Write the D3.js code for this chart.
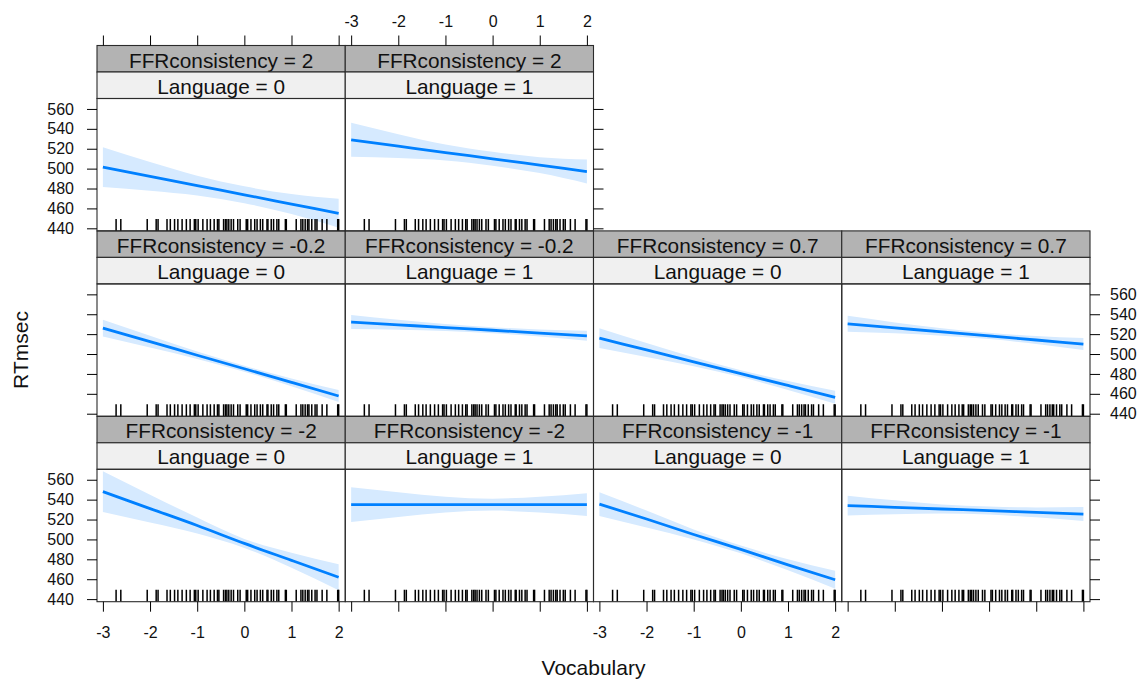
<!DOCTYPE html>
<html>
<head>
<meta charset="utf-8">
<script src="https://cdn.jsdelivr.net/npm/d3@7"></script>
<style>
  body { margin: 0; background: #fff; }
  svg text { font-family: "Liberation Sans", Arial, sans-serif; }
</style>
</head>
<body>
<svg id="chart" width="1142" height="679"></svg>
<script>
// Effect of Vocabulary on RTmsec, by FFRconsistency x Language
const vocabGrid = [-3, -2, -1, 0, 1, 2];

// panels are listed bottom-left first, filling each row left to right
const panelFFR = ["-2", "-2", "-1", "-1", "-0.2", "-0.2", "0.7", "0.7", "2", "2"];
const panelLanguage = ["0", "1", "0", "1", "0", "1", "0", "1", "0", "1"];

// fitted RT at each vocabGrid point
const fitRT = [
  [548, 531, 514, 496, 479, 462],
  [535, 535, 535, 535, 535, 535],
  [535.5, 520.5, 505, 490, 474.5, 459.5],
  [534, 532.3, 530.6, 529, 527.2, 525.5],
  [526, 512.5, 498.8, 485.2, 471.5, 457.8],
  [532.2, 529.4, 526.6, 523.9, 521.1, 518.3],
  [516, 504.1, 492.2, 480.3, 468.4, 456.5],
  [530.4, 526.3, 522.2, 518.2, 514.1, 510],
  [501.5, 492.2, 482.9, 473.7, 464.4, 455.1],
  [529, 522.6, 516.2, 509.9, 503.5, 497.1]
];

// lower confidence limit at each vocabGrid point
const lowerRT = [
  [527.5, 517, 506, 491.5, 471.5, 449],
  [517.5, 522.5, 527, 529, 527, 523.5],
  [523.5, 512, 500, 486, 469, 450.5],
  [524, 525.3, 526.1, 525, 522.2, 518.5],
  [517.5, 506.5, 495, 482.2, 467.5, 451.8],
  [525.2, 524.4, 523.1, 520.9, 517.6, 513.3],
  [506, 497.1, 487.7, 476.8, 463.9, 450],
  [522.4, 520.8, 518.4, 515, 510.1, 504],
  [481.5, 477.7, 472.9, 465.2, 454.4, 440.6],
  [512, 510.6, 508.2, 502.9, 495.5, 485.1]
];

// upper confidence limit at each vocabGrid point
const upperRT = [
  [568.5, 545, 522, 500.5, 486.5, 475],
  [552.5, 547.5, 543, 541, 543, 546.5],
  [547.5, 529, 510, 494, 480, 468.5],
  [544, 539.3, 535.1, 533, 532.2, 532.5],
  [534.5, 518.5, 502.6, 488.2, 475.5, 463.8],
  [539.2, 534.4, 530.1, 526.9, 524.6, 523.3],
  [526, 511.1, 496.7, 483.8, 472.9, 463],
  [538.4, 531.8, 526, 521.4, 518.1, 516],
  [521.5, 506.7, 492.9, 482.2, 474.4, 469.6],
  [546, 534.6, 524.2, 516.9, 511.5, 509.1]
];

// observed Vocabulary values shown as a rug
const rugVocabulary = [
  -2.72, -2.62, -2.06, -1.87, -1.83, -1.64, -1.57, -1.48, -1.41, -1.32,
  -1.23, -1.15, -1.06, -1.03, -0.98, -0.88, -0.79, -0.72, -0.64, -0.57,
  -0.54, -0.44, -0.40, -0.37, -0.33, -0.28, -0.23, -0.14, -0.09, 0.04,
  0.07, 0.14, 0.22, 0.27, 0.34, 0.39, 0.48, 0.50, 0.57, 0.62,
  0.69, 0.73, 0.87, 0.89, 1.10, 1.20, 1.24, 1.29, 1.34, 1.37,
  1.43, 1.50, 1.54, 1.65, 1.75, 1.98, 2.00
];

const xTickValues = [-3, -2, -1, 0, 1, 2];
const yTickValues = [440, 460, 480, 500, 520, 540, 560];

// ---- layout ----
const nCols = 4, nRows = 3;
const gridLeft = 97, gridRight = 1090, gridTop = 45.5, rowH = 185.4, stripH = 26.5;
const colW = (gridRight - gridLeft) / nCols;
const panelH = rowH - 2 * stripH;

const x = d3.scaleLinear().domain([-3.125, 2.14]).range([0, colW]);
const y = d3.scaleLinear().domain([437.4, 570.5]).range([panelH, 0]);

const svg = d3.select("#chart");
const fontFamily = '"Liberation Sans", Arial, sans-serif';

const panelCol = i => i % nCols;
const panelRow = i => nRows - 1 - Math.floor(i / nCols);
const panelLeft = c => gridLeft + c * colW;
const panelTop = r => gridTop + r * rowH + 2 * stripH;

const area = d3.area()
  .x(d => x(d.v)).y0(d => y(d.lo)).y1(d => y(d.hi))
  .curve(d3.curveMonotoneX);
const line = d3.line()
  .x(d => x(d.v)).y(d => y(d.fit))
  .curve(d3.curveMonotoneX);

panelFFR.forEach((ffr, i) => {
  const c = panelCol(i), r = panelRow(i);
  const g = svg.append("g").attr("transform", `translate(${panelLeft(c)},${gridTop + r * rowH})`);

  // strips
  g.append("rect").attr("width", colW).attr("height", stripH)
    .attr("fill", "#b3b3b3").attr("stroke", "#2b2b2b").attr("stroke-width", 1.1);
  g.append("text").attr("x", colW / 2).attr("y", 22)
    .attr("text-anchor", "middle").attr("font-size", 20.8).attr("fill", "#111")
    .text(`FFRconsistency = ${ffr}`);
  g.append("rect").attr("y", stripH).attr("width", colW).attr("height", stripH)
    .attr("fill", "#f0f0f0").attr("stroke", "#2b2b2b").attr("stroke-width", 1.1);
  g.append("text").attr("x", colW / 2).attr("y", stripH + 21.5)
    .attr("text-anchor", "middle").attr("font-size", 20.8).attr("fill", "#111")
    .text(`Language = ${panelLanguage[i]}`);

  // panel body
  const p = g.append("g").attr("transform", `translate(0,${2 * stripH})`);
  const clipId = `clip-${i}`;
  p.append("clipPath").attr("id", clipId)
    .append("rect").attr("width", colW).attr("height", panelH);
  const body = p.append("g").attr("clip-path", `url(#${clipId})`);

  const pts = vocabGrid.map((v, k) => ({ v, fit: fitRT[i][k], lo: lowerRT[i][k], hi: upperRT[i][k] }));
  body.append("path").attr("d", area(pts)).attr("fill", "#d6eaff");
  body.append("path").attr("d", line(pts)).attr("fill", "none")
    .attr("stroke", "#0080ff").attr("stroke-width", 2.8);

  body.selectAll("line.rug").data(rugVocabulary).join("line")
    .attr("class", "rug")
    .attr("x1", d => x(d)).attr("x2", d => x(d))
    .attr("y1", panelH).attr("y2", panelH - 12)
    .attr("stroke", "#000").attr("stroke-width", 1.5);

  p.append("rect").attr("width", colW).attr("height", panelH)
    .attr("fill", "none").attr("stroke", "#2b2b2b").attr("stroke-width", 1.1);
});

// ---- axes ----
function styleAxis(g) {
  g.select(".domain").remove();
  g.attr("font-size", 16).attr("font-family", fontFamily).attr("color", "#000");
  g.selectAll("text").attr("fill", "#111");
}
const labelled = on => on ? (d => String(d)) : () => "";

// left y axes: labels on the top and bottom rows
for (let r = 0; r < nRows; r++) {
  svg.append("g").attr("transform", `translate(${gridLeft},${panelTop(r)})`)
    .call(d3.axisLeft(y).tickValues(yTickValues).tickSize(10).tickPadding(13)
      .tickFormat(labelled(r !== 1)))
    .call(styleAxis);
}
// right y axes at the last panel of each row: labels on the middle row
const lastCol = [1, 3, 3];
for (let r = 0; r < nRows; r++) {
  svg.append("g").attr("transform", `translate(${panelLeft(lastCol[r] + 1)},${panelTop(r)})`)
    .call(d3.axisRight(y).tickValues(yTickValues).tickSize(10).tickPadding(10)
      .tickFormat(labelled(r === 1)))
    .call(styleAxis);
}
// top x axes above the first row
for (let c = 0; c < 2; c++) {
  svg.append("g").attr("transform", `translate(${panelLeft(c)},${gridTop})`)
    .call(d3.axisTop(x).tickValues(xTickValues).tickSize(10).tickPadding(8.8)
      .tickFormat(labelled(c % 2 === 1)))
    .call(styleAxis);
}
// bottom x axes below the last row
for (let c = 0; c < nCols; c++) {
  svg.append("g").attr("transform", `translate(${panelLeft(c)},${gridTop + nRows * rowH})`)
    .call(d3.axisBottom(x).tickValues(xTickValues).tickSize(10).tickPadding(15)
      .tickFormat(labelled(c % 2 === 0)))
    .call(styleAxis);
}

// axis titles
svg.append("text")
  .attr("transform", "translate(28,350) rotate(-90)")
  .attr("text-anchor", "middle").attr("font-size", 21).attr("fill", "#111")
  .text("RTmsec");
svg.append("text")
  .attr("x", (gridLeft + gridRight) / 2).attr("y", 675)
  .attr("text-anchor", "middle").attr("font-size", 21).attr("fill", "#111")
  .text("Vocabulary");
</script>
</body>
</html>
